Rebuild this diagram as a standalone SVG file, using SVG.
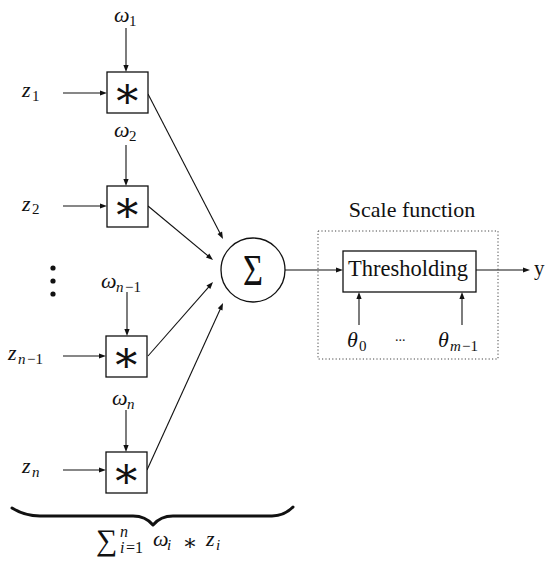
<svg xmlns="http://www.w3.org/2000/svg" width="548" height="565" viewBox="0 0 548 565">
<defs>
<path id="head" d="M0,0 L-7,-2.6 L-7,2.6 Z" fill="#111"/>
</defs>
<rect width="548" height="565" fill="#fff"/>
<g id="connectors">
<g stroke="#111" stroke-width="1.1" fill="none">
<line x1="63" y1="93" x2="104" y2="93"/>
<line x1="126" y1="28" x2="126" y2="69"/>
<line x1="63" y1="206" x2="104" y2="206"/>
<line x1="126" y1="145" x2="126" y2="183"/>
<line x1="63" y1="356" x2="103" y2="356"/>
<line x1="127" y1="292" x2="127" y2="333"/>
<line x1="63" y1="470" x2="103" y2="470"/>
<line x1="126" y1="410" x2="126" y2="449"/>
<line x1="148" y1="94" x2="221.6" y2="236.3"/>
<line x1="148" y1="206" x2="210.7" y2="258.1"/>
<line x1="148" y1="356" x2="211" y2="284.3"/>
<line x1="147" y1="470" x2="221.8" y2="305.7"/>
<line x1="285" y1="270" x2="340" y2="270"/>
<line x1="476" y1="270" x2="527" y2="270"/>
<line x1="359" y1="325" x2="359" y2="295"/>
<line x1="462" y1="325" x2="462" y2="295"/>
</g>
<use href="#head" transform="translate(107,93)"/>
<use href="#head" transform="translate(126,72) rotate(90)"/>
<use href="#head" transform="translate(107,206)"/>
<use href="#head" transform="translate(126,186) rotate(90)"/>
<use href="#head" transform="translate(106,356)"/>
<use href="#head" transform="translate(127,336) rotate(90)"/>
<use href="#head" transform="translate(106,470)"/>
<use href="#head" transform="translate(126,452) rotate(90)"/>
<use href="#head" transform="translate(223,239) rotate(62.65)"/>
<use href="#head" transform="translate(213,260) rotate(39.7)"/>
<use href="#head" transform="translate(213,282) rotate(-48.7)"/>
<use href="#head" transform="translate(223,303) rotate(-65.5)"/>
<use href="#head" transform="translate(343,270)"/>
<use href="#head" transform="translate(530,270)"/>
<use href="#head" transform="translate(359,292) rotate(-90)"/>
<use href="#head" transform="translate(462,292) rotate(-90)"/>
</g>
<g id="in1" fill="#111">
<text x="22" y="97" font-family="Liberation Serif" style="font-family:'Liberation Serif',serif !important;font-style:italic;font-size:22px">z</text>
<text x="32" y="101" font-family="Liberation Serif" style="font-family:'Liberation Serif',serif !important;font-size:15px">1</text>
<text x="114" y="22" font-family="Liberation Serif" style="font-family:'Liberation Serif',serif !important;font-style:italic;font-size:22px">ω</text>
<text x="129" y="26" font-family="Liberation Serif" style="font-family:'Liberation Serif',serif !important;font-size:15px">1</text>
</g>
<g id="mul1"><rect x="107" y="72" width="41" height="41" fill="#fff" stroke="#111" stroke-width="1.3"/><text x="127.5" y="108" text-anchor="middle" fill="#111" font-family="DejaVu Serif" style="font-family:'DejaVu Serif',serif !important;font-size:44px">∗</text></g>
<g id="in2" fill="#111">
<text x="22" y="211" font-family="Liberation Serif" style="font-family:'Liberation Serif',serif !important;font-style:italic;font-size:22px">z</text>
<text x="32" y="214" font-family="Liberation Serif" style="font-family:'Liberation Serif',serif !important;font-size:15px">2</text>
<text x="114" y="137" font-family="Liberation Serif" style="font-family:'Liberation Serif',serif !important;font-style:italic;font-size:22px">ω</text>
<text x="129" y="141" font-family="Liberation Serif" style="font-family:'Liberation Serif',serif !important;font-size:15px">2</text>
</g>
<g id="mul2"><rect x="107" y="186" width="41" height="41" fill="#fff" stroke="#111" stroke-width="1.3"/><text x="127.5" y="222" text-anchor="middle" fill="#111" font-family="DejaVu Serif" style="font-family:'DejaVu Serif',serif !important;font-size:44px">∗</text></g>
<g id="dots" fill="#111">
<circle cx="53" cy="268" r="2.6"/>
<circle cx="53" cy="281" r="2.6"/>
<circle cx="53" cy="294" r="2.6"/>
</g>
<g id="inn1" fill="#111">
<text x="8" y="360" font-family="Liberation Serif" style="font-family:'Liberation Serif',serif !important;font-style:italic;font-size:22px">z</text>
<text x="18" y="364" font-family="Liberation Serif" style="font-family:'Liberation Serif',serif !important;font-style:italic;font-size:15px">n</text>
<text x="27" y="364" font-family="Liberation Serif" style="font-family:'Liberation Serif',serif !important;font-size:15px">−1</text>
<text x="101" y="288" font-family="Liberation Serif" style="font-family:'Liberation Serif',serif !important;font-style:italic;font-size:22px">ω</text>
<text x="116" y="292" font-family="Liberation Serif" style="font-family:'Liberation Serif',serif !important;font-style:italic;font-size:15px">n</text>
<text x="125" y="292" font-family="Liberation Serif" style="font-family:'Liberation Serif',serif !important;font-size:15px">−1</text>
</g>
<g id="muln1"><rect x="106" y="336" width="41" height="41" fill="#fff" stroke="#111" stroke-width="1.3"/><text x="126.5" y="372" text-anchor="middle" fill="#111" font-family="DejaVu Serif" style="font-family:'DejaVu Serif',serif !important;font-size:44px">∗</text></g>
<g id="inn" fill="#111">
<text x="22" y="473" font-family="Liberation Serif" style="font-family:'Liberation Serif',serif !important;font-style:italic;font-size:22px">z</text>
<text x="32" y="477" font-family="Liberation Serif" style="font-family:'Liberation Serif',serif !important;font-style:italic;font-size:15px">n</text>
<text x="112" y="405" font-family="Liberation Serif" style="font-family:'Liberation Serif',serif !important;font-style:italic;font-size:22px">ω</text>
<text x="127" y="409" font-family="Liberation Serif" style="font-family:'Liberation Serif',serif !important;font-style:italic;font-size:15px">n</text>
</g>
<g id="muln"><rect x="106" y="452" width="41" height="41" fill="#fff" stroke="#111" stroke-width="1.3"/><text x="126.5" y="488" text-anchor="middle" fill="#111" font-family="DejaVu Serif" style="font-family:'DejaVu Serif',serif !important;font-size:44px">∗</text></g>
<g id="sum">
<circle cx="253" cy="270" r="32" fill="#fff" stroke="#111" stroke-width="1.3"/>
<text transform="translate(253,285) scale(0.78,1)" x="0" y="0" text-anchor="middle" fill="#111" font-family="Liberation Serif" style="font-family:'Liberation Serif',serif !important;font-size:44px">Σ</text>
</g>
<g id="scale">
<rect x="318" y="231" width="180" height="128" fill="none" stroke="#444" stroke-width="1" stroke-dasharray="1.2,2.2"/>
<text x="412" y="217" text-anchor="middle" fill="#111" font-family="Liberation Serif" style="font-family:'Liberation Serif',serif !important;font-size:22px">Scale function</text>
</g>
<g id="threshold">
<rect x="343" y="251" width="133" height="41" fill="#fff" stroke="#111" stroke-width="1.3"/>
<text x="408" y="276" text-anchor="middle" fill="#111" font-family="Liberation Serif" style="font-family:'Liberation Serif',serif !important;font-size:22.5px">Thresholding</text>
</g>
<g id="thetas" fill="#111">
<text x="347" y="347" font-family="Liberation Serif" style="font-family:'Liberation Serif',serif !important;font-style:italic;font-size:22px">θ</text>
<text x="359" y="351" font-family="Liberation Serif" style="font-family:'Liberation Serif',serif !important;font-size:15px">0</text>
<text x="395" y="341" font-family="Liberation Serif" style="font-family:'Liberation Serif',serif !important;font-size:14px">...</text>
<text x="438" y="347" font-family="Liberation Serif" style="font-family:'Liberation Serif',serif !important;font-style:italic;font-size:22px">θ</text>
<text x="450" y="351" font-family="Liberation Serif" style="font-family:'Liberation Serif',serif !important;font-style:italic;font-size:15px">m</text>
<text x="462" y="351" font-family="Liberation Serif" style="font-family:'Liberation Serif',serif !important;font-size:15px">−1</text>
</g>
<g id="output"><text x="534" y="275" fill="#111" font-family="Liberation Serif" style="font-family:'Liberation Serif',serif !important;font-size:21px">y</text></g>
<g id="brace" fill="#111">
<path d="M12,508 C20,513 28,516 40,516 L133,516 C142,516 148,519 153,525 C158,519 164,516 173,516 L272,516 C282,516 288,512 293,507" fill="none" stroke="#111" stroke-width="3" stroke-linecap="round" stroke-linejoin="round"/>
<text x="96" y="550" font-family="Liberation Serif" style="font-family:'Liberation Serif',serif !important;font-size:30px">∑</text>
<text x="120" y="537" font-family="Liberation Serif" style="font-family:'Liberation Serif',serif !important;font-style:italic;font-size:16px">n</text>
<text x="120" y="553" font-family="Liberation Serif" style="font-family:'Liberation Serif',serif !important;font-style:italic;font-size:16px">i</text>
<text x="126" y="553" font-family="Liberation Serif" style="font-family:'Liberation Serif',serif !important;font-size:16px">=1</text>
<text x="153" y="546" font-family="Liberation Serif" style="font-family:'Liberation Serif',serif !important;font-style:italic;font-size:22px">ω</text>
<text x="167" y="550" font-family="Liberation Serif" style="font-family:'Liberation Serif',serif !important;font-style:italic;font-size:15px">i</text>
<text x="190" y="550" text-anchor="middle" font-family="DejaVu Serif" style="font-family:'DejaVu Serif',serif !important;font-size:22px">∗</text>
<text x="206" y="546" font-family="Liberation Serif" style="font-family:'Liberation Serif',serif !important;font-style:italic;font-size:22px">z</text>
<text x="216" y="550" font-family="Liberation Serif" style="font-family:'Liberation Serif',serif !important;font-style:italic;font-size:15px">i</text>
</g>
</svg>
